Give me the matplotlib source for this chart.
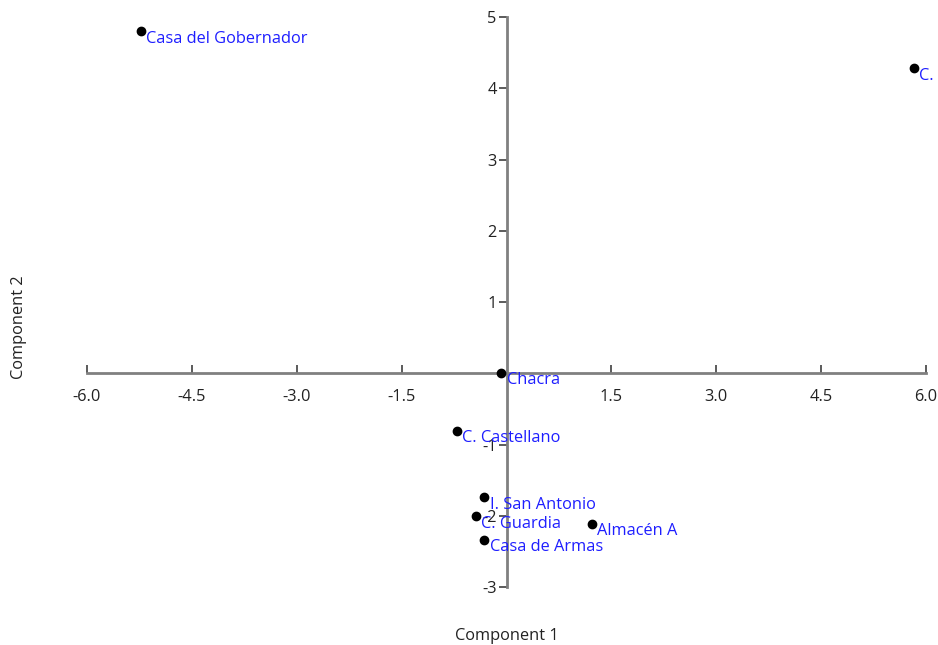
import matplotlib
matplotlib.use("Agg")
import matplotlib.pyplot as plt

plt.rcParams["font.family"] = ["Open Sans", "DejaVu Sans"]

# PCA scores, components 1 and 2
names = ["Casa del Gobernador", "C.", "Chacra", "C. Castellano",
         "I. San Antonio", "C. Guardia", "Almacén A", "Casa de Armas"]
comp1 = [-5.23, 5.82, -0.08, -0.71, -0.32, -0.44, 1.22, -0.32]
comp2 = [4.80, 4.28, 0.01, -0.81, -1.74, -2.01, -2.11, -2.34]

xticks = [-6.0, -4.5, -3.0, -1.5, 1.5, 3.0, 4.5, 6.0]
yticks = [-3, -2, -1, 1, 2, 3, 4, 5]

fig = plt.figure(figsize=(9.38, 6.45), dpi=100)
ax = fig.add_axes([0.0928, 0.0899, 0.8945, 0.8837])
ax.set_xlim(-6, 6)
ax.set_ylim(-3, 5)

ax.scatter(comp1, comp2, s=36, color="black", zorder=3, clip_on=False)
for name, x, y in zip(names, comp1, comp2):
    ax.annotate(name, (x, y), xytext=(4, 0.5), textcoords="offset points",
                ha="left", va="top", fontsize=11.8, color="#1e1eff",
                annotation_clip=False, zorder=4)

# axes crossing at the origin
for side in ["top", "right"]:
    ax.spines[side].set_visible(False)
ax.spines["left"].set_position(("data", 0))
ax.spines["bottom"].set_position(("data", 0))
for side in ["left", "bottom"]:
    ax.spines[side].set_color("#808080")
    ax.spines[side].set_linewidth(2)

ax.set_xticks(xticks)
ax.set_xticklabels([f"{t:.1f}" for t in xticks])
ax.set_yticks(yticks)
ax.set_yticklabels([str(t) for t in yticks])
ax.tick_params(axis="x", direction="in", length=6, width=1.2, color="#404040",
               pad=11, labelsize=11.8, labelcolor="#222222")
ax.tick_params(axis="y", direction="out", length=6, width=1.2, color="#404040",
               pad=1, labelsize=11.8, labelcolor="#222222")

fig.text(0.54, 0.014, "Component 1", ha="center", va="center", fontsize=11.8,
         color="#222222")
fig.text(0.02, 0.493, "Component 2", ha="center", va="center", rotation=90,
         fontsize=11.8, color="#222222")

fig.savefig("out.png", dpi=100)
